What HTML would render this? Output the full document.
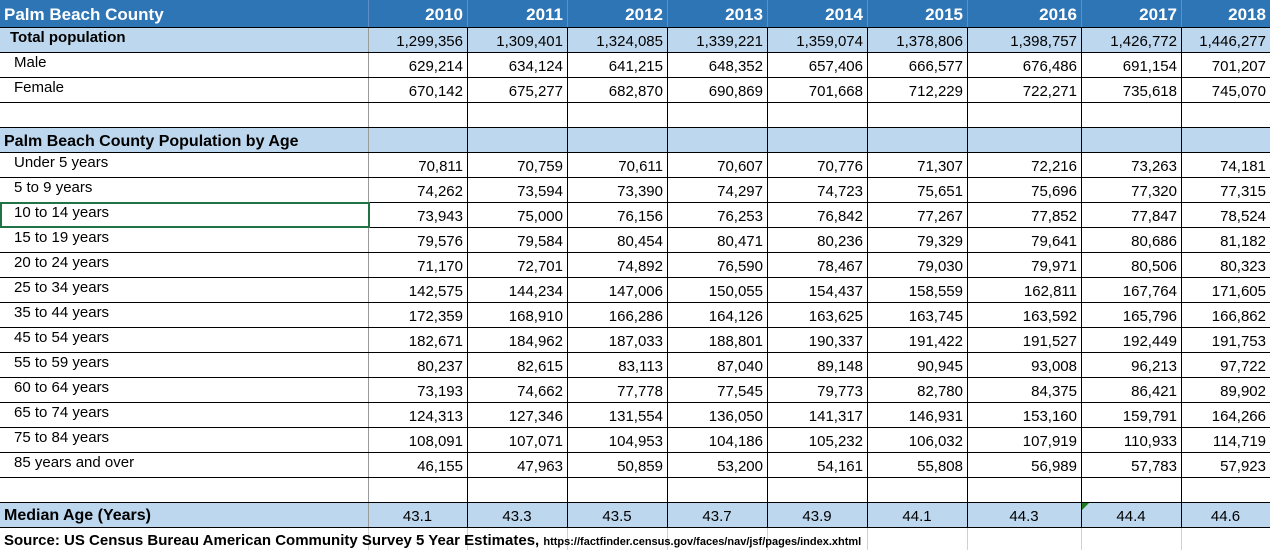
<!DOCTYPE html>
<html><head><meta charset="utf-8">
<style>
html,body{margin:0;padding:0;background:#fff;}
#sheet{position:relative;width:1270px;height:550px;overflow:hidden;font-family:"Liberation Sans",Arial,sans-serif;}
.c{position:absolute;box-sizing:border-box;white-space:nowrap;overflow:visible;}
.num{text-align:right;padding-right:4px;font-size:15px;line-height:16px;}
.lbl{font-size:15px;padding-left:14px;line-height:18px;}
.hl{position:absolute;height:1px;background:#000;}
.vl{position:absolute;width:1px;background:#000;}
</style></head>
<body>
<div id="sheet"></div>
<script>
const years=["2010","2011","2012","2013","2014","2015","2016","2017","2018"];
const totalPop=["1,299,356","1,309,401","1,324,085","1,339,221","1,359,074","1,378,806","1,398,757","1,426,772","1,446,277"];
const malePop=["629,214","634,124","641,215","648,352","657,406","666,577","676,486","691,154","701,207"];
const femalePop=["670,142","675,277","682,870","690,869","701,668","712,229","722,271","735,618","745,070"];
const ageLabels=["Under 5 years","5 to 9 years","10 to 14 years","15 to 19 years","20 to 24 years","25 to 34 years","35 to 44 years","45 to 54 years","55 to 59 years","60 to 64 years","65 to 74 years","75 to 84 years","85 years and over"];
const ageValues=[
["70,811","70,759","70,611","70,607","70,776","71,307","72,216","73,263","74,181"],
["74,262","73,594","73,390","74,297","74,723","75,651","75,696","77,320","77,315"],
["73,943","75,000","76,156","76,253","76,842","77,267","77,852","77,847","78,524"],
["79,576","79,584","80,454","80,471","80,236","79,329","79,641","80,686","81,182"],
["71,170","72,701","74,892","76,590","78,467","79,030","79,971","80,506","80,323"],
["142,575","144,234","147,006","150,055","154,437","158,559","162,811","167,764","171,605"],
["172,359","168,910","166,286","164,126","163,625","163,745","163,592","165,796","166,862"],
["182,671","184,962","187,033","188,801","190,337","191,422","191,527","192,449","191,753"],
["80,237","82,615","83,113","87,040","89,148","90,945","93,008","96,213","97,722"],
["73,193","74,662","77,778","77,545","79,773","82,780","84,375","86,421","89,902"],
["124,313","127,346","131,554","136,050","141,317","146,931","153,160","159,791","164,266"],
["108,091","107,071","104,953","104,186","105,232","106,032","107,919","110,933","114,719"],
["46,155","47,963","50,859","53,200","54,161","55,808","56,989","57,783","57,923"]];
const medianAge=["43.1","43.3","43.5","43.7","43.9","44.1","44.3","44.4","44.6"];

const S=document.getElementById('sheet');
const colX=[0,368,467,567,667,767,867,967,1081,1181,1270];
function cell(x,y,w,h,text,cls,style,name){
  const d=document.createElement('div');
  d.className='c '+(cls||'');
  d.style.left=x+'px';d.style.top=y+'px';d.style.width=w+'px';d.style.height=h+'px';
  if(style)d.style.cssText+=style;
  d.textContent=text;
  
  
  S.appendChild(d);return d;
}
function rect(x,y,w,h,bg,name){
  const d=document.createElement('div');
  d.className='c';d.style.left=x+'px';d.style.top=y+'px';d.style.width=w+'px';d.style.height=h+'px';d.style.background=bg;
  
  
  S.appendChild(d);
}
function hline(y,x1,x2,col){
  const d=document.createElement('div');d.className='hl';
  d.style.top=y+'px';d.style.left=x1+'px';d.style.width=(x2-x1)+'px';if(col)d.style.background=col;
  
  
  S.appendChild(d);
}
function vline(x,y1,y2,col){
  const d=document.createElement('div');d.className='vl';
  d.style.left=x+'px';d.style.top=y1+'px';d.style.height=(y2-y1)+'px';if(col)d.style.background=col;
  
  
  S.appendChild(d);
}
rect(0,0,1270,27,'#2e75b6','header-row-bg');
rect(0,27,1270,25,'#bdd7ee','total-row-bg');
rect(0,127,1270,25,'#bdd7ee','age-header-row-bg');
rect(0,502,1270,25,'#bdd7ee','median-row-bg');
for(let i=1;i<colX.length-1;i++){
  vline(colX[i],0,27,'#5b8fc6');
  vline(colX[i],27,527,i==1?'#9a9a9a':'#000');
  vline(colX[i],527,550,'#d0d0d0');
}
const rowYs=[27,52,77,102,127,152];
for(let k=1;k<=14;k++)rowYs.push(152+25*k);
rowYs.push(527);
rowYs.forEach(y=>hline(y,0,1270,'#000'));
cell(4,0,360,27,'Palm Beach County','', 'color:#fff;font-weight:bold;font-size:17px;line-height:30px;','header-title');
years.forEach((y,i)=>cell(colX[i+1],0,colX[i+2]-colX[i+1],27,y,'num','color:#fff;font-weight:bold;font-size:17px;line-height:30px;','year-header-'+y));
cell(10,27,358,25,'Total population','', 'font-weight:bold;font-size:15px;line-height:22px;','total-population-label');
totalPop.forEach((v,i)=>cell(colX[i+1],27,colX[i+2]-colX[i+1],25,v,'num','line-height:30px;','total-'+years[i]));
cell(0,52,368,25,'Male','lbl','line-height:22px;','male-label');
malePop.forEach((v,i)=>cell(colX[i+1],52,colX[i+2]-colX[i+1],25,v,'num','line-height:30px;','male-'+years[i]));
cell(0,77,368,25,'Female','lbl','line-height:22px;','female-label');
femalePop.forEach((v,i)=>cell(colX[i+1],77,colX[i+2]-colX[i+1],25,v,'num','line-height:30px;','female-'+years[i]));
cell(4,127,364,25,'Palm Beach County Population by Age','', 'font-weight:bold;font-size:16px;line-height:30px;','age-section-title');
ageLabels.forEach((lab,r)=>{
  const y=152+25*r;
  cell(0,y,368,25,lab,'lbl','line-height:22px;','age-label-'+r);
  ageValues[r].forEach((v,i)=>cell(colX[i+1],y,colX[i+2]-colX[i+1],25,v,'num','line-height:30px;','age-'+r+'-'+years[i]));
});
cell(4,502,364,25,'Median Age (Years)','', 'font-weight:bold;font-size:16px;line-height:28px;','median-age-label');
medianAge.forEach((v,i)=>cell(colX[i+1],502,colX[i+2]-colX[i+1],25,v,'','text-align:center;font-size:15px;line-height:30px;','median-'+years[i]));
const sel=document.createElement('div');
sel.className='c';sel.style.cssText='left:0;top:202px;width:370px;height:26px;border:2px solid #217346;';


S.appendChild(sel);
const tri=document.createElement('div');
tri.className='c';tri.style.cssText='left:1082px;top:503px;width:0;height:0;border-top:7px solid #1e7b1e;border-right:7px solid transparent;';


S.appendChild(tri);
const src=document.createElement('div');
src.className='c';src.style.cssText='left:4px;top:529px;width:1000px;height:21px;font-size:15px;line-height:24px;font-weight:bold;';
src.innerHTML='Source: US Census Bureau American Community Survey 5 Year Estimates, <span style="font-size:11px">https://factfinder.census.gov/faces/nav/jsf/pages/index.xhtml</span>';


S.appendChild(src);
</script>
</body></html>
